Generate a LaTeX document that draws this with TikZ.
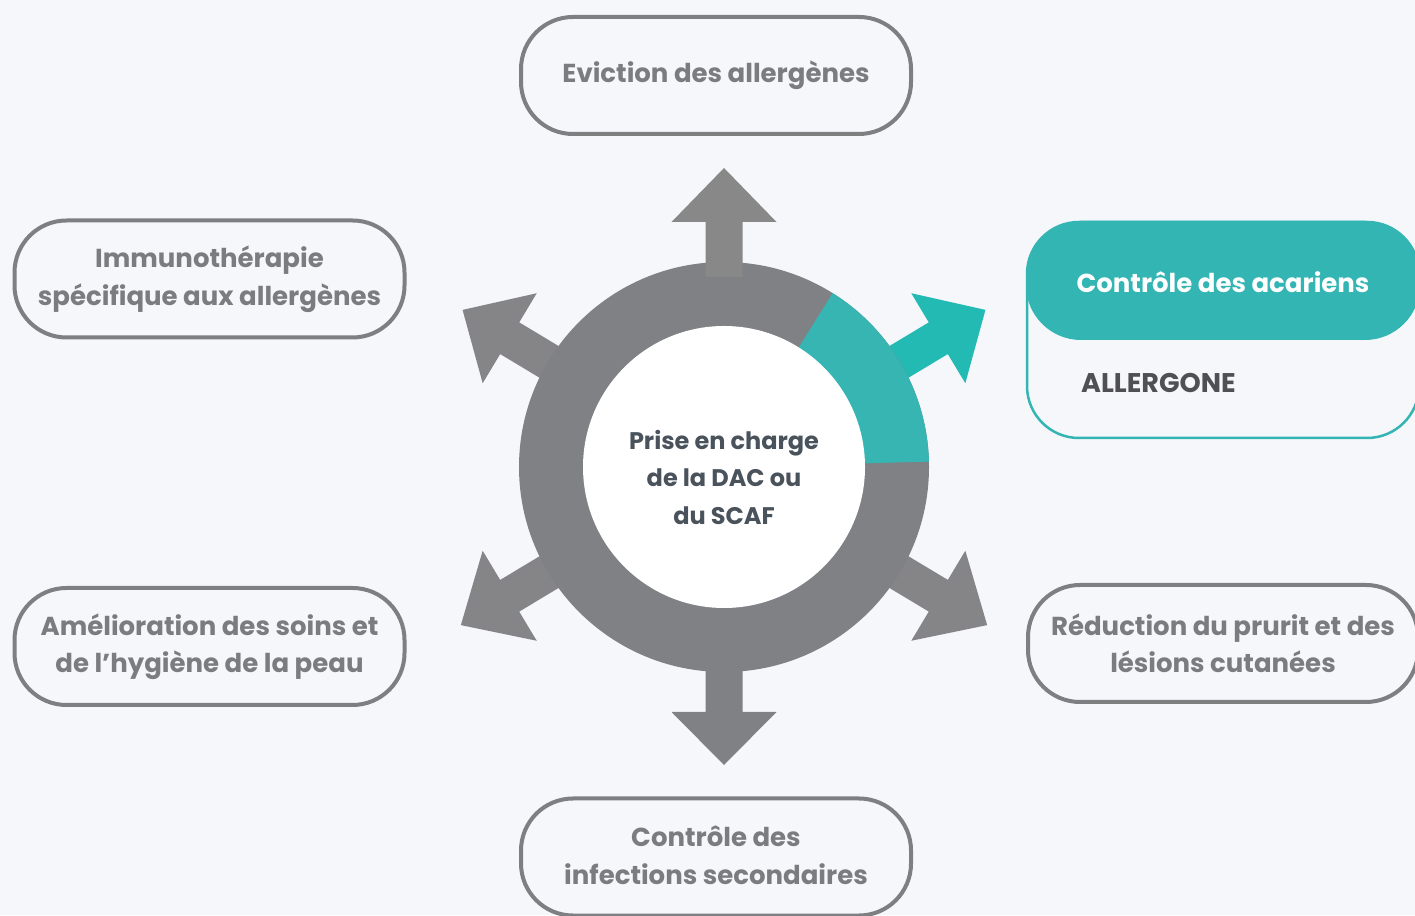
\documentclass[tikz,border=0pt]{standalone}
\usepackage{fontspec}
\setmainfont{Poppins}
\definecolor{bg}{HTML}{F5F7FB}
\definecolor{ringgray}{HTML}{808185}
\definecolor{arrowgray}{HTML}{858587}
\definecolor{upgray}{HTML}{888889}
\definecolor{tealseg}{HTML}{36B5B3}
\definecolor{tealarrow}{HTML}{22BAB3}
\definecolor{tealbox}{HTML}{33B5B3}
\definecolor{boxgray}{HTML}{7E7F81}
\definecolor{txtgray}{HTML}{7B7C7E}
\definecolor{darktxt}{HTML}{4A535C}
\definecolor{brandtxt}{HTML}{505052}
\tikzset{
  boxnode/.style={draw=boxgray, line width=4pt, rounded corners=52pt, fill=bg,
    minimum width=390pt, minimum height=117pt, inner sep=0pt},
  boxtext/.style={text=txtgray, font=\fontsize{26}{37.5}\selectfont\bfseries, align=center}
}
\newcommand{\ArrowAt}[5]{% angle, start, base, tip, color
  \begin{scope}[shift={(ctr)}, rotate=#1]
    \fill[#5] (#2,-18.5) -- (#3,-18.5) -- (#3,-52.5) -- (#4,0) -- (#3,52.5) -- (#3,18.5) -- (#2,18.5) -- cycle;
  \end{scope}}
\begin{document}
\begin{tikzpicture}[x=1pt,y=1pt]
\fill[bg] (0,0) rectangle (1415,915);
\useasboundingbox (0,0) rectangle (1415,915);
\coordinate (ctr) at (724,448);

% arrows under the ring
\ArrowAt{31}{150}{250}{305}{tealarrow}
\ArrowAt{149}{150}{250}{305}{arrowgray}
\ArrowAt{211}{150}{250}{307}{arrowgray}
\ArrowAt{329}{150}{250}{307}{arrowgray}
\ArrowAt{270}{150}{245}{298}{ringgray}

% ring
\fill[ringgray] (ctr) circle (205);
\fill[tealseg] (ctr) -- ++(1.5:205) arc (1.5:58:205) -- cycle;
\fill[white] (ctr) circle (141);

% up arrow over the ring
\ArrowAt{90}{190}{245}{299}{upgray}

\node[text=darktxt, font=\fontsize{24}{37.5}\selectfont\bfseries, align=center] (centre) at (724,438) {Prise en charge\\de la DAC ou\\du SCAF};

% boxes
\node[boxnode] (evic) at (716,839.5) {};
\node[boxtext] (evict) at (evic) {Eviction des allergènes};

\node[boxnode] (immu) at (209.5,636) {};
\node[boxtext] (immut) at (immu) {Immunothérapie\\spécifique aux allergènes};

\node[boxnode] (amel) at (209.5,268.5) {};
\node[boxtext] (amelt) at (amel) {Amélioration des soins et\\de l’hygiène de la peau};

\node[boxnode] (infe) at (716,58) {};
\node[boxtext] (infet) at (716,60) {Contrôle des\\infections secondaires};

\node[boxnode] (redu) at (1223,271.5) {};
\node[boxtext] (redut) at (redu) {Réduction du prurit et des\\lésions cutanées};

% teal box
\node[draw=tealbox, line width=2.5pt, rounded corners=52pt, fill=bg, minimum width=392pt, minimum height=216pt, inner sep=0pt] (acar) at (1223,585) {};
\node[fill=tealbox, rounded corners=55pt, minimum width=394pt, minimum height=119pt, inner sep=0pt] (acarh) at (1223,634.5) {};
\node[text=white, font=\fontsize{26}{37.5}\selectfont\bfseries] (acart) at (1223,633) {Contrôle des acariens};
\node[anchor=west, text=brandtxt, font=\fontsize{27}{30}\selectfont\bfseries, inner sep=0pt] (brand) at (1081,532) {ALLERGONE};
\end{tikzpicture}
\end{document}
